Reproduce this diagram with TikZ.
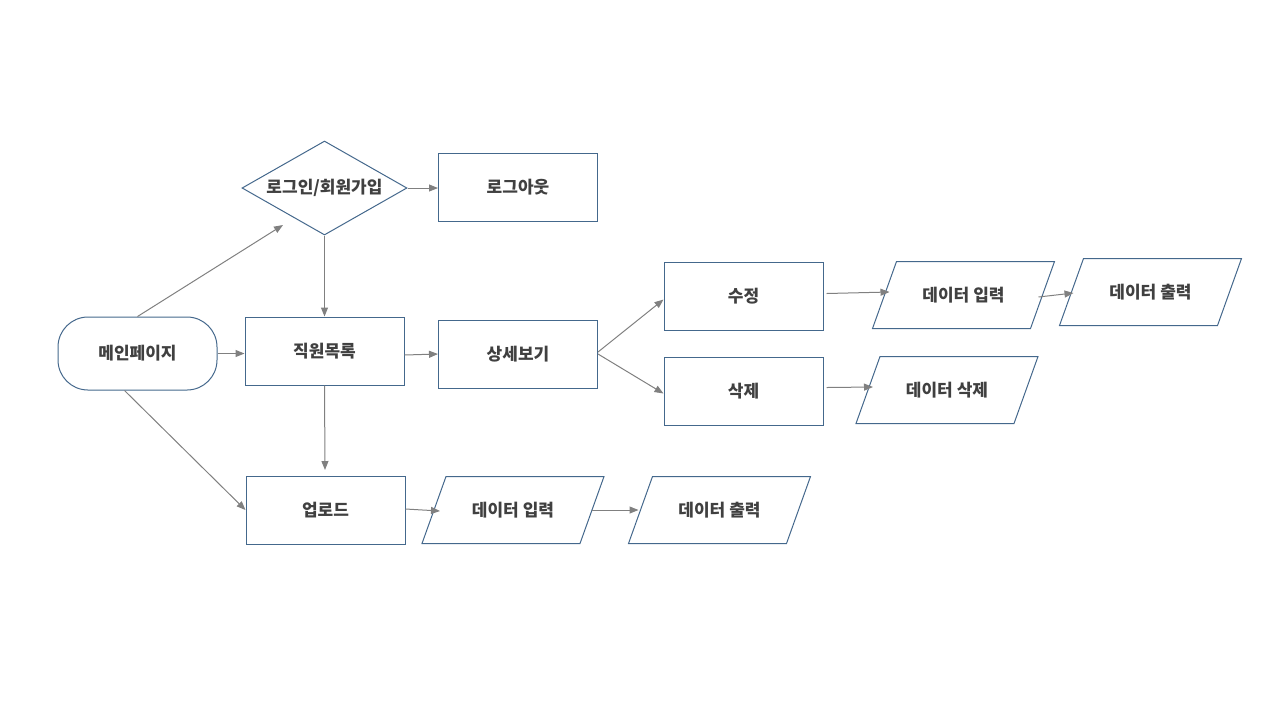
\documentclass[tikz,border=0pt]{standalone}
\usepackage{fontspec}
\setmainfont{Noto Sans CJK KR}
\usetikzlibrary{shapes.geometric,arrows.meta,positioning}
\definecolor{boxline}{RGB}{68,104,140}
\definecolor{arrowgray}{RGB}{128,128,128}
\definecolor{textgray}{RGB}{64,64,64}

\tikzset{
  base/.style={draw=boxline, line width=0.5pt, text=textgray, inner sep=0pt,
    font=\fontsize{8.5}{10}\selectfont\bfseries},
  startbox/.style={base, rectangle, rounded corners=15pt, minimum width=79.5pt, minimum height=36.5pt},
  procbox/.style={base, rectangle, minimum width=79.5pt, minimum height=34pt},
  decbox/.style={base, diamond, aspect=1.75, minimum width=82.5pt, minimum height=47pt},
  iobox/.style={base, draw=none, rectangle, minimum width=78.5pt, minimum height=33pt},
  flow/.style={draw=arrowgray, line width=0.5pt, -{Triangle[length=4.5pt,width=3.5pt]}}
}
% slanted frame round an iobox node
\newcommand{\ioframe}[1]{%
  \draw[boxline, line width=0.5pt] ([xshift=-6pt]#1.south west) -- ([xshift=6pt]#1.north west)
    -- ([xshift=6pt]#1.north east) -- ([xshift=-6pt]#1.south east) -- cycle;}

\begin{document}
\begin{tikzpicture}[x=0.5pt, y=-0.5pt]
            \useasboundingbox (0,0) rectangle (1280,720);
            % Main flow
            \node[startbox] (main) at (137.5,353.5) {메인페이지};
            \node[decbox] (login) at (324.5,188) {로그인/회원가입};
            \node[procbox] (logout) at (518,187.5) {로그아웃};
            \node[procbox] (list) at (324.5,351) {직원목록};
            \node[procbox] (detail) at (518,354) {상세보기};
            \node[procbox] (upload) at (325.5,510) {업로드};
            % Edit / delete
            \node[procbox] (edit) at (743.5,296.5) {수정};
            \node[procbox] (del) at (743.5,391.5) {삭제};
            \node[iobox] (editin) at (963.5,295) {데이터 입력};
            \node[iobox] (editout) at (1150.5,292) {데이터 출력};
            \node[iobox] (delout) at (947,390) {데이터 삭제};
            % Upload branch
            \node[iobox] (upin) at (513,510) {데이터 입력};
            \node[iobox] (upout) at (719.5,510) {데이터 출력};
            \ioframe{editin} \ioframe{editout} \ioframe{delout}
            \ioframe{upin} \ioframe{upout}
            \coordinate (loginend) at (283,225);
            \coordinate (uptop) at (325,470);
            % Connectors
            \draw[flow] (main.north) -- (loginend);
            \draw[flow] (main.east) -- (main.east -| list.west);
            \draw[flow] ([xshift=-6.5pt]main.south) -- (upload.west);
            \draw[flow] (login.east) -- (login.east -| logout.west);
            \draw[flow] (login.south) -- (list.north);
            \draw[flow] ([yshift=-2pt]list.east) -- (detail.west);
            \draw[flow] (list.south) -- (uptop);
            \draw[flow] ([yshift=1pt]detail.east) -- ([yshift=-1.5pt]edit.west);
            \draw[flow] (detail.east) -- ([yshift=-1pt]del.west);
            \draw[flow] ([xshift=1.5pt,yshift=1.5pt]edit.east) -- ([xshift=2.5pt,yshift=1.5pt]editin.west);
            \draw[flow] ([xshift=-2pt,yshift=-1pt]editin.east) -- ([xshift=1pt,yshift=-0.5pt]editout.west);
            \draw[flow] ([xshift=1.5pt,yshift=2pt]del.east) -- ([xshift=2.5pt,yshift=1.5pt]delout.west);
            \draw[flow] ([yshift=0.5pt]upload.east) -- ([xshift=3pt,yshift=-0.5pt]upin.west);
            \draw[flow] (upin.east) -- ([xshift=-1pt]upout.west);
          \end{tikzpicture}
\end{document}
